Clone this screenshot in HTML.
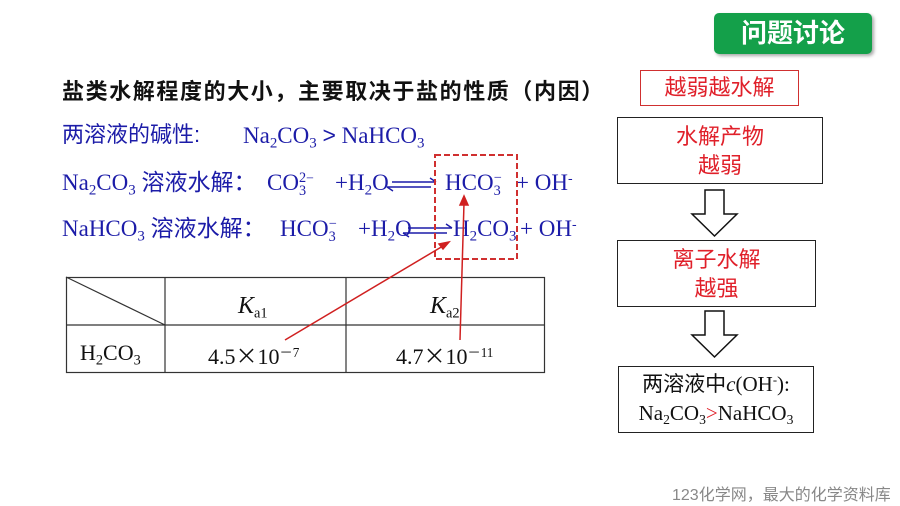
<!DOCTYPE html>
<html><head><meta charset="utf-8"><style>
body{margin:0;width:900px;height:506px;background:#fff;position:relative;overflow:hidden;font-family:"Liberation Sans","Noto Sans CJK SC",sans-serif}
.a{position:absolute;white-space:nowrap}
.s{font-family:"Liberation Serif","Noto Sans CJK SC",serif}
.b{color:#1c1ca8}
sub{font-size:0.65em;vertical-align:-0.3em;line-height:0}
sup{font-size:0.6em;vertical-align:0.55em;line-height:0}
.ss{display:inline-block;vertical-align:-0.35em;line-height:0.9;font-size:0.62em;text-align:left}
.r{color:#e0202a}
.e{font-size:23px;line-height:26px}
</style></head><body>
<div class="a" style="left:714px;top:13px;width:158px;height:41px;background:#14a04a;border-radius:5px;box-shadow:2px 2px 3px #aaa;color:#fff;font-weight:bold;font-size:26px;line-height:41px;text-align:center">问题讨论</div>
<div class="a" style="left:62px;top:74px;font-size:22px;letter-spacing:1.6px;font-weight:bold;color:#111">盐类水解程度的大小，主要取决于盐的性质（内因）</div>
<div class="a r" style="left:640px;top:70px;width:157px;height:34px;border:1.5px solid #d03030;font-size:22px;line-height:34px;text-align:center">越弱越水解</div>
<div class="a r" style="left:617px;top:117px;width:206px;font-size:22px;line-height:29px;text-align:center;padding-top:4px;box-sizing:border-box;height:67px;border:1.5px solid #222">水解产物<br>越弱</div>
<div class="a r" style="left:617px;top:240px;width:199px;height:67px;border:1.5px solid #222;font-size:22px;line-height:29px;text-align:center;padding-top:4px;box-sizing:border-box">离子水解<br>越强</div>
<div class="a s" style="left:618px;top:366px;width:196px;height:67px;border:1.5px solid #222;font-size:21px;line-height:29px;text-align:center;padding-top:3px;box-sizing:border-box;color:#111">两溶液中<i>c</i>(OH<sup>-</sup>):<br>Na<sub>2</sub>CO<sub>3</sub><span class="r">&gt;</span>NaHCO<sub>3</sub></div>

<div class="a b e" style="left:62px;top:122px;font-size:22px">两溶液的碱性:</div>
<div class="a b s e" style="left:243px;top:122px">Na<sub>2</sub>CO<sub>3</sub> <span style="font-family:'Liberation Sans'">&gt;</span> NaHCO<sub>3</sub></div>

<div class="a b s e" style="left:62px;top:170px">Na<sub>2</sub>CO<sub>3</sub> 溶液水解：</div>
<div class="a b s e" style="left:267px;top:170px">CO<span class="ss">2<br>3</span><sup>−</sup></div>
<div class="a b s e" style="left:335px;top:170px">+H<sub>2</sub>O</div>
<div class="a b s e" style="left:445px;top:170px">HCO<span class="ss">−<br>3</span></div>
<div class="a b s e" style="left:516px;top:170px">+ OH<sup>-</sup></div>

<div class="a b s e" style="left:62px;top:216px">NaHCO<sub>3</sub> 溶液水解：</div>
<div class="a b s e" style="left:280px;top:216px">HCO<span class="ss">−<br>3</span></div>
<div class="a b s e" style="left:358px;top:216px">+H<sub>2</sub>O</div>
<div class="a b s e" style="left:453px;top:216px">H<sub>2</sub>CO<sub>3</sub></div>
<div class="a b s e" style="left:520px;top:216px">+ OH<sup>-</sup></div>

<div class="a s" style="left:80px;top:340px;font-size:22px;color:#111">H<sub>2</sub>CO<sub>3</sub></div>
<div class="a s" style="left:238px;top:293px;font-size:24px;color:#111"><i>K</i><sub style="font-size:0.6em">a1</sub></div>
<div class="a s" style="left:430px;top:293px;font-size:24px;color:#111"><i>K</i><sub style="font-size:0.6em">a2</sub></div>
<div class="a s" style="left:208px;top:339px;font-size:22px;color:#111">4.5<span style="font-family:'Noto Sans CJK SC'">×</span>10<sup>－7</sup></div>
<div class="a s" style="left:396px;top:339px;font-size:22px;color:#111">4.7<span style="font-family:'Noto Sans CJK SC'">×</span>10<sup>－11</sup></div>
<div class="a" style="left:672px;top:481px;font-size:16px;color:#888">123化学网，最大的化学资料库</div>
<svg class="a" style="left:0;top:0" width="900" height="506">
<g stroke="#1c1ca8" stroke-width="1.4" fill="none">
<path d="M392 182H436M387 187H431M436 182l-6 -4M387 187l6 4"/>
<path d="M408 228H452M403 233H447M452 228l-6 -4M403 233l6 4"/>
</g>
<rect x="435" y="155" width="82" height="104" fill="none" stroke="#d03030" stroke-width="2" stroke-dasharray="6 3"/>
<g stroke="#333" stroke-width="1.2" fill="none">
<rect x="66.5" y="277.5" width="478" height="95"/>
<path d="M165 277V373M346 277V373M66 325H545M66 277L165 325"/>
</g>
<g stroke="#d02020" stroke-width="1.5" fill="#d02020">
<line x1="285" y1="340" x2="443" y2="246"/><path d="M449 242l-10 2 4 5z"/>
<line x1="460" y1="340" x2="464" y2="203"/><path d="M464 196l-4 9h8z"/>
</g>
<g stroke="#111" stroke-width="1.5" fill="#fff">
<path d="M705 190H724V214H737L714.5 236L692 214H705Z"/>
<path d="M705 311H724V335H737L714.5 357L692 335H705Z"/>
</g>
</svg>
</body></html>
